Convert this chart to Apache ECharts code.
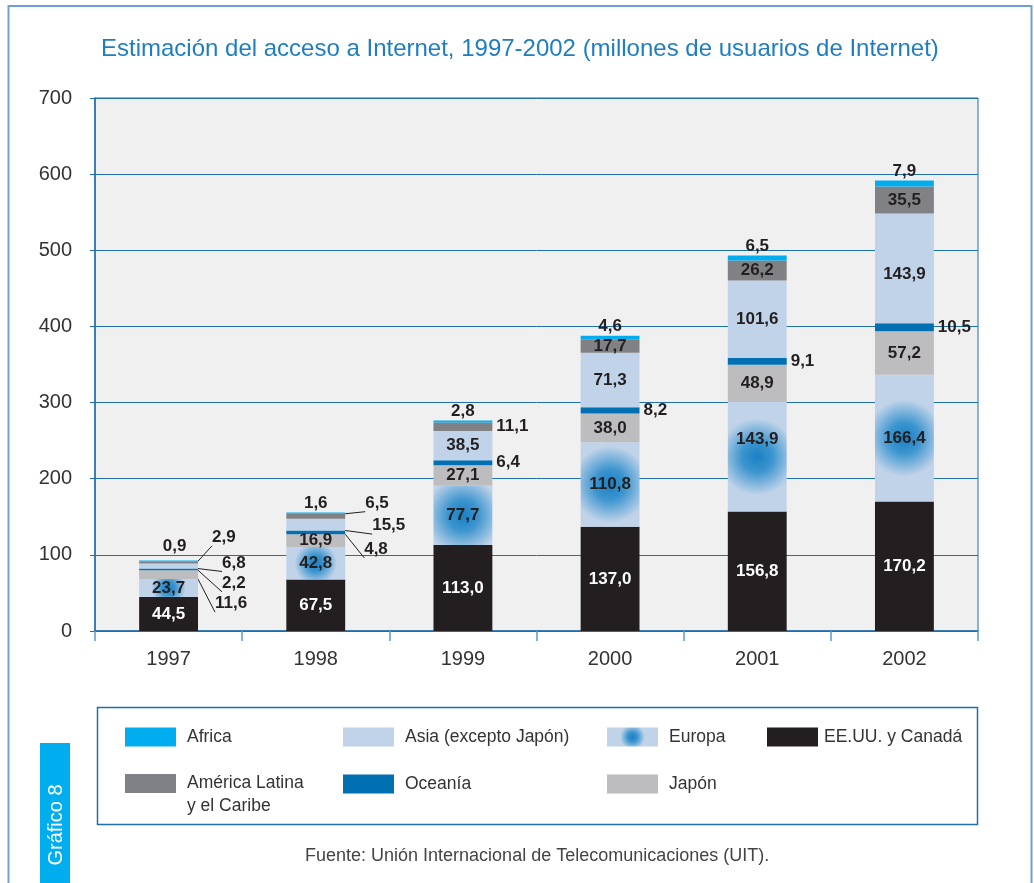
<!DOCTYPE html>
<html>
<head>
<meta charset="utf-8">
<script src="https://cdn.jsdelivr.net/npm/echarts@6/dist/echarts.min.js"></script>
<style>
html,body{margin:0;padding:0;background:#fff;}
#chart{width:1034px;height:883px;}
</style>
</head>
<body>
<div id="chart"></div>
<script>
// ---- data ----
const years = ['1997', '1998', '1999', '2000', '2001', '2002'];
const yTicks = [0, 100, 200, 300, 400, 500, 600, 700];
const eeuu    = [44.5, 67.5, 113.0, 137.0, 156.8, 170.2];
const europa  = [23.7, 42.8, 77.7, 110.8, 143.9, 166.4];
const japon   = [11.6, 16.9, 27.1, 38.0, 48.9, 57.2];
const oceania = [2.2, 4.8, 6.4, 8.2, 9.1, 10.5];
const asia    = [6.8, 15.5, 38.5, 71.3, 101.6, 143.9];
const amlat   = [2.9, 6.5, 11.1, 17.7, 26.2, 35.5];
const africa  = [0.9, 1.6, 2.8, 4.6, 6.5, 7.9];

const FONT = "'Liberation Sans', Arial, sans-serif";
const BLUE = '#1f6fae';
const DARK = '#231f20';
const fmt = p => Number(p.value).toFixed(1).replace('.', ',');

const europaGrad = r => ({
  type: 'radial', x: 0.5, y: 0.5, r: r,
  colorStops: [
    { offset: 0, color: '#1a80c2' },
    { offset: 0.4, color: '#3c95cf' },
    { offset: 1, color: '#c0d3e9' }
  ]
});

const baseLabel = {
  show: true, formatter: fmt, fontFamily: FONT, fontWeight: 'bold',
  fontSize: 17, color: DARK
};
const leader = { show: true, length2: 0, lineStyle: { color: DARK, width: 1 } };

// per-item label placement (style only)
function items(values, fn) {
  return values.map((v, i) => {
    const o = fn(i);
    return o ? Object.assign({ value: v }, o) : v;
  });
}
function side(offset) {
  return { label: { position: 'right', distance: 5, offset: offset }, labelLine: leader };
}

const series = [
  {
    name: 'EE.UU. y Canadá', color: DARK, data: eeuu,
    label: Object.assign({}, baseLabel, { position: 'inside', color: '#ffffff' })
  },
  {
    name: 'Europa', color: europaGrad(0.65),
    data: items(europa, i => {
      if (i === 0) return { itemStyle: { color: europaGrad(0.95) } };
      if (i === 4) return { label: { offset: [0, -18] } };
      return null;
    }),
    label: Object.assign({}, baseLabel, { position: 'inside' })
  },
  {
    name: 'Japón', color: '#bdbdbf',
    data: items(japon, i => i === 0 ? side([12, 29]) : null),
    label: Object.assign({}, baseLabel, { position: 'inside' })
  },
  {
    name: 'Oceanía', color: '#0070b2',
    data: items(oceania, i => i === 0 ? side([19, 14]) : i === 1 ? side([14, 17]) : null),
    label: Object.assign({}, baseLabel, { position: 'right', distance: 4 })
  },
  {
    name: 'Asia (excepto Japón)', color: '#c0d3e9',
    data: items(asia, i => i === 0 ? side([19, -3]) : i === 1 ? side([22, 1]) :
      i === 5 ? { label: { offset: [0, 6] } } : null),
    label: Object.assign({}, baseLabel, { position: 'inside' })
  },
  {
    name: 'América Latina y el Caribe', color: '#808184',
    data: items(amlat, i => i === 0 ? side([9, -25]) : i === 1 ? side([15, -13]) :
      i === 2 ? { label: { position: 'right', distance: 4 } } : null),
    label: Object.assign({}, baseLabel, { position: 'inside' })
  },
  {
    name: 'Africa', color: '#00aeef',
    data: items(africa, i => i === 0 ? { label: { offset: [6, -5] } } : null),
    label: Object.assign({}, baseLabel, { position: 'top', distance: 1 })
  }
].map(s => Object.assign({
  type: 'bar', stack: 'total', barWidth: '40%',
  labelLine: { show: false },
  emphasis: { disabled: true }
}, s));

// legend, one component per item, in the reference's grid
const legendSlots = [
  ['Africa', 125, 727, 6],
  ['Asia (excepto Japón)', 343, 727, 6],
  ['Europa', 607, 727, 6],
  ['EE.UU. y Canadá', 767, 727, 1],
  ['América Latina y el Caribe', 125, 749, 6],
  ['Oceanía', 343, 774, 6],
  ['Japón', 607, 774, 6]
];
const legends = legendSlots.map(([name, x, y, gap]) => {
  const twoLine = name === 'América Latina y el Caribe';
  return {
    left: x, top: y, padding: 0, orient: 'horizontal',
    data: [{ name: name, icon: 'rect' }],
    itemWidth: 51, itemHeight: 19, selectedMode: false,
    formatter: n => twoLine ? '\u00a0\nAmérica Latina\ny el Caribe' : n,
    textStyle: {
      fontFamily: FONT, fontSize: 17.5, color: '#333333',
      lineHeight: twoLine ? 23 : 20,
      padding: [0, 0, 0, gap]
    }
  };
});

const chart = echarts.init(document.getElementById('chart'), null, { renderer: 'canvas' });
chart.setOption({
  animation: false,
  backgroundColor: '#ffffff',
  title: [
    {
      text: 'Estimación del acceso a Internet, 1997-2002 (millones de usuarios de Internet)',
      left: 96, top: 32,
      textStyle: { fontFamily: FONT, fontSize: 24, fontWeight: 'normal', color: '#1f7ec1' }
    },
    {
      text: 'Fuente: Unión Internacional de Telecomunicaciones (UIT).',
      left: 300, top: 842,
      textStyle: { fontFamily: FONT, fontSize: 18, fontWeight: 'normal', color: '#444444' }
    }
  ],
  graphic: [
    { type: 'rect', z: -10, shape: { x: 8.5, y: 6, width: 1023, height: 920 },
      style: { fill: 'none', stroke: '#6fa2d4', lineWidth: 2 } },
    { type: 'rect', z: -5, shape: { x: 97.5, y: 707.5, width: 880, height: 117 },
      style: { fill: '#ffffff', stroke: BLUE, lineWidth: 1.5 } },
    { type: 'rect', shape: { x: 40, y: 743, width: 30, height: 150 },
      style: { fill: '#00aeef' } },
    { type: 'text', x: 56, y: 825, rotation: Math.PI / 2,
      style: { text: 'Gráfico 8', fill: '#ffffff', font: "20px 'Liberation Sans', Arial, sans-serif",
        textAlign: 'center', textVerticalAlign: 'middle' } }
  ],
  legend: legends,
  grid: {
    left: 95, right: 56, top: 98, bottom: 252, show: true,
    backgroundColor: '#f0f0f0', borderColor: BLUE, borderWidth: 1
  },
  xAxis: {
    type: 'category', data: years,
    axisLine: { lineStyle: { color: BLUE, width: 1.5 } },
    axisTick: { show: true, length: 10, alignWithLabel: false, lineStyle: { color: '#5a9bd3', width: 1.5 } },
    axisLabel: { margin: 18, fontFamily: FONT, fontSize: 20, color: '#333333' }
  },
  yAxis: {
    type: 'value', min: yTicks[0], max: yTicks[yTicks.length - 1], interval: 100,
    axisLine: { show: true, lineStyle: { color: BLUE, width: 1.5 } },
    axisTick: { show: true, length: 5, lineStyle: { color: BLUE } },
    splitLine: { show: true, lineStyle: { color: BLUE, width: 1 } },
    axisLabel: { margin: 23, fontFamily: FONT, fontSize: 20, color: '#333333' }
  },
  series: series
});
</script>
</body>
</html>
